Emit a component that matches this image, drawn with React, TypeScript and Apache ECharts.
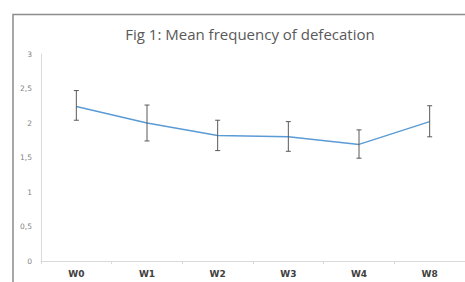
import React, { useEffect, useRef } from "react";
import * as echarts from "echarts";

const categories = ["W0", "W1", "W2", "W3", "W4", "W8"];
const meanValues = [2.24, 2.0, 1.82, 1.8, 1.69, 2.02];
const upperValues = [2.47, 2.26, 2.04, 2.02, 1.9, 2.25];
const lowerValues = [2.04, 1.74, 1.6, 1.59, 1.49, 1.8];
const yTicks = [0, 0.5, 1, 1.5, 2, 2.5, 3];

export default function App() {
  const ref = useRef<HTMLDivElement>(null);
  useEffect(() => {
    if (!ref.current) return;
    const chart = echarts.init(ref.current, null, { renderer: "svg" });
    const errData = categories.map((_, i) => [i, lowerValues[i], upperValues[i]]);
    chart.setOption({
      animation: false,
      backgroundColor: "#ffffff",
      title: {
        text: "Fig 1: Mean frequency of defecation",
        left: 245,
        top: 21,
        textAlign: "center",
        textStyle: {
          fontFamily: "Open Sans",
          fontSize: 15,
          fontWeight: "normal",
          color: "#595959",
        },
      },
      graphic: [
        {
          type: "polyline",
          shape: { points: [[13, 290], [13, 14.5], [470, 14.5]] },
          style: { stroke: "#8c8c8c", lineWidth: 1.5, fill: "none" },
          z: 100,
        },
      ],
      grid: { left: 41, right: -2, top: 54, bottom: 21 },
      xAxis: {
        type: "category",
        data: categories,
        boundaryGap: true,
        axisLine: { lineStyle: { color: "#d9d9d9" } },
        axisTick: { show: true, length: 3, lineStyle: { color: "#d9d9d9" } },
        axisLabel: {
          fontFamily: "DejaVu Sans",
          fontSize: 9,
          fontWeight: "bold",
          color: "#404040",
          margin: 8,
        },
      },
      yAxis: {
        type: "value",
        min: 0,
        max: 3,
        interval: 0.5,
        splitLine: { show: false },
        axisLine: { show: true, lineStyle: { color: "#d9d9d9" } },
        axisTick: { show: false },
        axisLabel: {
          fontFamily: "DejaVu Sans",
          fontSize: 7.5,
          color: "#7f7f7f",
          margin: 9,
          formatter: (v: number) => (yTicks.includes(v) ? String(v).replace(".", ",") : ""),
        },
      },
      series: [
        {
          type: "line",
          data: meanValues,
          symbol: "none",
          lineStyle: { color: "#5b9bd5", width: 1.5 },
          z: 2,
        },
        {
          type: "custom",
          data: errData,
          z: 3,
          renderItem: (params: any, api: any) => {
            const x = api.value(0);
            const lo = api.coord([x, api.value(1)]);
            const hi = api.coord([x, api.value(2)]);
            const cap = 2.5;
            const style = { stroke: "#595959", lineWidth: 1 };
            return {
              type: "group",
              children: [
                { type: "line", shape: { x1: lo[0], y1: lo[1], x2: hi[0], y2: hi[1] }, style },
                { type: "line", shape: { x1: lo[0] - cap, y1: lo[1], x2: lo[0] + cap, y2: lo[1] }, style },
                { type: "line", shape: { x1: hi[0] - cap, y1: hi[1], x2: hi[0] + cap, y2: hi[1] }, style },
              ],
            };
          },
        },
      ],
    });
    return () => chart.dispose();
  }, []);
  return (
    <div
      ref={ref}
      style={{ position: "fixed", left: 0, top: 0, width: 465, height: 282 }}
    />
  );
}
